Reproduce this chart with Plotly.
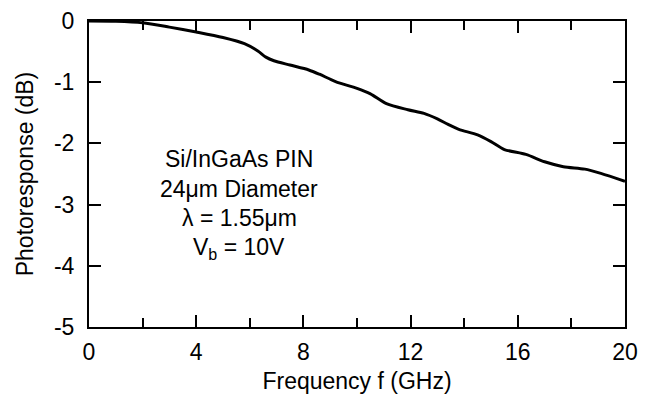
import plotly.graph_objects as go

# Data
freq_ghz = [0, 1, 2, 3, 4, 5, 5.8, 6.3, 6.6, 6.9, 7.5, 8.2, 8.6, 9.2, 10.0, 10.5,
            11.1, 11.9, 12.5, 13.0, 13.4, 13.8, 14.5, 15.0, 15.5, 16.3, 17.0,
            17.7, 18.5, 19.1, 20.0]
response_db = [0.0, -0.005, -0.03, -0.10, -0.18, -0.27, -0.37, -0.49, -0.59, -0.65,
               -0.72, -0.80, -0.87, -0.99, -1.10, -1.19, -1.35, -1.45, -1.51, -1.60,
               -1.69, -1.77, -1.86, -1.97, -2.10, -2.18, -2.30, -2.38, -2.42, -2.49,
               -2.62]

x_ticks = [0, 4, 8, 12, 16, 20]
y_ticks = [0, -1, -2, -3, -4, -5]

label_lines = ["Si/InGaAs PIN", "24μm Diameter", "λ = 1.55μm", "V<sub>b</sub> = 10V"]
label_x = 5.6
label_y = [-2.25, -2.75, -3.22, -3.71]

FONT = "Liberation Sans, Arial, Helvetica, sans-serif"
FS = 23

fig = go.Figure()
fig.add_trace(go.Scatter(
    x=freq_ghz, y=response_db, mode="lines",
    line=dict(color="black", width=3, shape="spline", smoothing=0.8),
    showlegend=False, hoverinfo="skip",
))

for txt, yy in zip(label_lines, label_y):
    fig.add_annotation(x=label_x, y=yy, text=txt, showarrow=False,
                       xanchor="center", yanchor="middle",
                       font=dict(family=FONT, size=FS, color="black"))

axis_common = dict(
    showgrid=False, zeroline=False, showline=True, linecolor="black",
    linewidth=2, mirror="ticks", ticks="inside", tickcolor="black",
    tickwidth=1.5, tickfont=dict(family=FONT, size=FS, color="black"),
    automargin=False, ticklabeloverflow="allow",
)

fig.update_xaxes(
    range=[0, 20], tickvals=x_ticks, ticktext=[str(v) for v in x_ticks],
    ticklen=12, ticklabelstandoff=3,
    minor=dict(dtick=2, tick0=0, ticks="inside", ticklen=9, tickcolor="black", tickwidth=1.5),
    title=dict(text="Frequency f (GHz)", font=dict(family=FONT, size=FS, color="black"), standoff=10),
    **axis_common,
)
fig.update_yaxes(
    range=[-5, 0], tickvals=y_ticks, ticktext=[str(v) for v in y_ticks],
    ticklen=12, ticklabelstandoff=8,
    title=dict(text="Photoresponse (dB)", font=dict(family=FONT, size=FS, color="black"), standoff=14),
    **axis_common,
)

# The page body has an 8px default margin; size the figure so the plot area
# lands where the reference has it inside the 653x402 window.
fig.update_layout(
    width=637, height=386,
    margin=dict(l=81, r=20, t=13, b=67),
    paper_bgcolor="white", plot_bgcolor="white",
    font=dict(family=FONT, color="black"),
)

fig.write_html("out.html")
